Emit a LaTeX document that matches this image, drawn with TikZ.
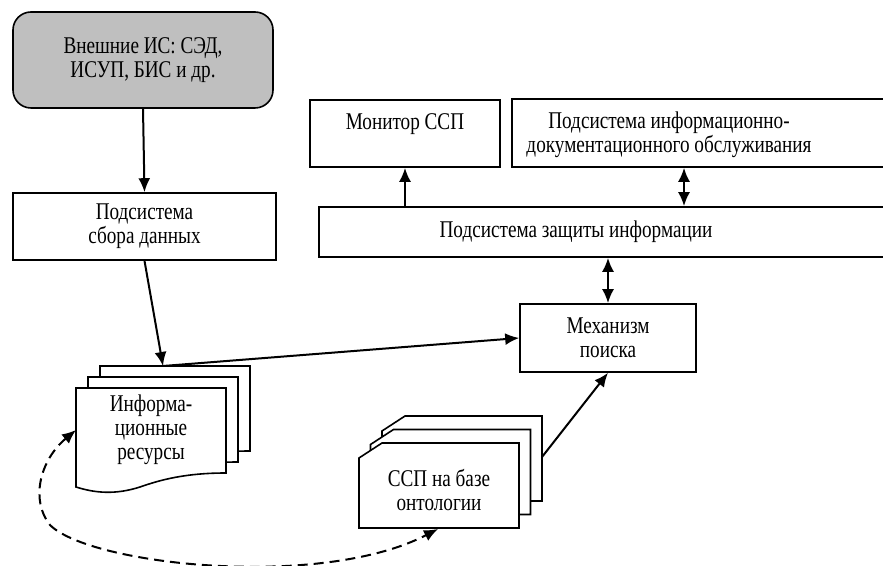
\documentclass[tikz,border=0pt]{standalone}
\usepackage{fontspec}
\setmainfont{Liberation Serif}[FakeStretch=0.8]
\usetikzlibrary{arrows.meta}
\begin{document}
\begin{tikzpicture}[>={Latex[length=7pt,width=6pt]}, x=0.5pt, y=-0.5pt,
  box/.style={draw, line width=0.8pt, inner sep=0pt, align=center, font=\fontsize{12}{12}\selectfont},
  txt/.style={inner sep=0pt, align=center, font=\fontsize{12}{12}\selectfont},
  conn/.style={line width=1pt}]
\useasboundingbox (0,0) rectangle (883,566);
\clip (0,0) rectangle (883,566);

% Блоки
\node[box, rounded corners=9pt, fill=black!25, minimum width=130pt, minimum height=48pt] (ext) at (143,60) {Внешние ИС: СЭД,\\ИСУП, БИС и др.};
\node[box, minimum width=131.5pt, minimum height=33.5pt] (collect) at (144.5,226.5) {Подсистема\\сбора данных};
\node[box, minimum width=95pt, minimum height=33.5pt] (monitor) at (405,133.5) {Монитор ССП\\ \mbox{}};
\node[box, minimum width=194pt, minimum height=34pt] (docbox) at (706,133) {};
\node[txt] (doc) at (669,135) {Подсистема информационно-\\документационного обслуживания};
\node[box, minimum width=290.5pt, minimum height=25pt] (protbox) at (609.5,232) {};
\node[txt] (prot) at (576,232) {Подсистема защиты информации};
\node[box, minimum width=88pt, minimum height=34pt] (search) at (608,338) {Механизм\\поиска};

% Документы
\foreach \d in {2,1,0} {
  \draw[line width=0.8pt, fill=white, shift={(12*\d,-11*\d)}]
    (76,388) -- (226,388) -- (226,473) .. controls (185,473) and (160,480) .. (140,487)
    .. controls (115,495) and (95,493) .. (76,487) -- cycle;
}
\node[txt] (inf) at (151,430) {Информа-\\ционные\\ресурсы};

% ССП
\foreach \d in {2,1,0} {
  \draw[line width=0.8pt, fill=white, shift={(11.5*\d,-13.5*\d)}]
    (359,458) -- (382,443) -- (519,443) -- (519,528) -- (359,528) -- cycle;
}
\node[txt] (ssp) at (439,490) {ССП на базе\\онтологии};

\coordinate (infTop) at (163,366);
\coordinate (sspOut) at (542,457);
\coordinate (infIn) at (76,430);
\coordinate (sspIn) at (438,529);
\coordinate (dlink) at (684,0);

% Связи
\draw[conn,->] (ext.south) -- (collect.north);
\draw[conn,->] (collect.south) -- (infTop);
\draw[conn,->] (infTop) -- (search.west);
\draw[conn,->] (sspOut) -- (search.south);
\draw[conn,<->] (search.north) -- (protbox.south -| search.north);
\draw[conn,->] (protbox.north -| monitor.south) -- (monitor.south);
\draw[conn,<->] (protbox.north -| dlink) -- (docbox.south -| dlink);
\draw[conn, dash pattern=on 5pt off 3pt, <->] (infIn) .. controls (40,460) and (30,500) .. (50,525)
  .. controls (90,565) and (320,590) .. (sspIn);
\end{tikzpicture}
\end{document}
